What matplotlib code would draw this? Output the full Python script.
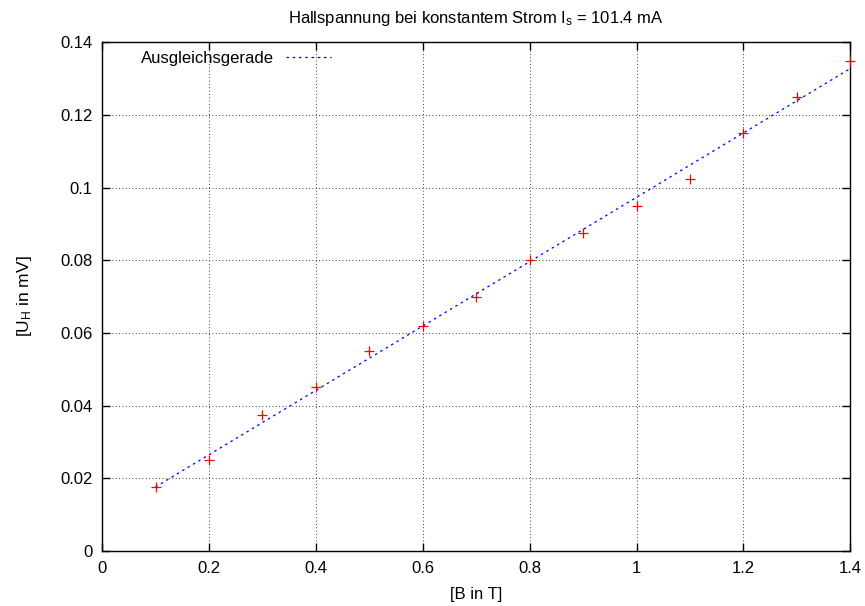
import matplotlib
matplotlib.use('Agg')
import matplotlib.pyplot as plt

plt.rcParams['font.family'] = ['Liberation Sans', 'DejaVu Sans']
plt.rcParams['mathtext.default'] = 'regular'

# Messwerte
b_feld = [0.1, 0.2, 0.3, 0.4, 0.5, 0.6, 0.7, 0.8, 0.9, 1.0, 1.1, 1.2, 1.3, 1.4]
u_hall = [0.0175, 0.025, 0.0375, 0.045, 0.055, 0.062, 0.070, 0.080,
          0.0875, 0.095, 0.1025, 0.115, 0.125, 0.135]

fit_x = [0.1, 1.4]
fit_y = [0.0176, 0.1328]

x_ticks = [0, 0.2, 0.4, 0.6, 0.8, 1, 1.2, 1.4]
y_ticks = [0, 0.02, 0.04, 0.06, 0.08, 0.1, 0.12, 0.14]

fig = plt.figure(figsize=(8.65, 6.06), dpi=100)
ax = fig.add_axes([0.118, 0.091, 0.865, 0.839])

ax.plot(b_feld, u_hall, linestyle='none', marker='+', color='red',
        markersize=7, markeredgewidth=0.9, clip_on=False, zorder=4)
ax.plot(fit_x, fit_y, color='blue', linewidth=0.9, dashes=(2, 3),
        label='Ausgleichsgerade')

ax.set_xlim(0, 1.4)
ax.set_ylim(0, 0.14)
ax.set_xticks(x_ticks)
ax.set_yticks(y_ticks)
ax.set_xticklabels(['0', '0.2', '0.4', '0.6', '0.8', '1', '1.2', '1.4'])
ax.set_yticklabels(['0', '0.02', '0.04', '0.06', '0.08', '0.1', '0.12', '0.14'])
ax.tick_params(direction='in', top=True, right=True, length=6, width=1,
               labelsize=12, pad=7)
ax.grid(True, color='black', linestyle=(0, (1, 3)), linewidth=0.6)
for s in ax.spines.values():
    s.set_linewidth(1)

ax.set_title('Hallspannung bei konstantem Strom I$_s$ = 101.4 mA',
             fontsize=12, pad=14)
ax.set_xlabel('[B in T]', fontsize=12, labelpad=8)
ax.set_ylabel('[U$_H$ in mV]', fontsize=12.5, labelpad=19)

ax.legend(loc='upper left', frameon=False, markerfirst=False,
          fontsize=12, handlelength=2.7, handletextpad=0.7,
          bbox_to_anchor=(0.032, 1.012))

fig.savefig('out.png', dpi=100)
